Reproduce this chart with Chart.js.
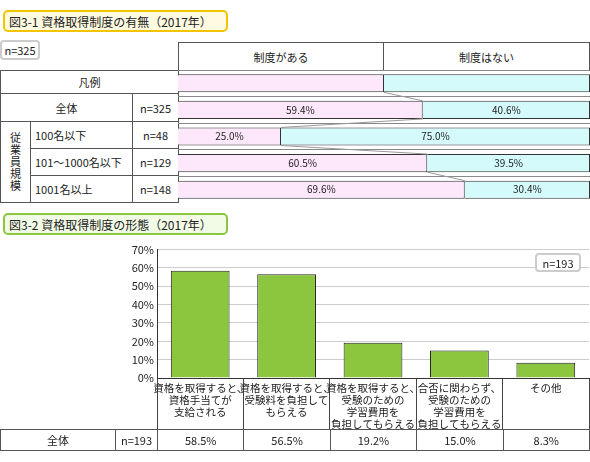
<!DOCTYPE html>
<html><head><meta charset="utf-8">
<script src="https://cdn.jsdelivr.net/npm/chart.js@4"></script>
<style>
body{margin:0;width:590px;height:462px;background:#fff;font-family:"Noto Sans CJK JP",sans-serif;font-size:11px;color:#222;position:relative;overflow:hidden}
.a{position:absolute;box-sizing:border-box;display:flex;align-items:center;justify-content:center}
.c{border:1px solid #555}
</style></head><body>
<script>
const rowLabels=["凡例","全体","100名以下","101～1000名以下","1001名以上"];
const rowN=["","n=325","n=48","n=129","n=148"];
const hasSystem=[50,59.4,25.0,60.5,69.6];
const noSystem=[50,40.6,75.0,39.5,30.4];
const seriesNames=["制度がある","制度はない"];
const formCats=[["資格を取得すると、","資格手当てが","支給される"],["資格を取得すると、","受験料を負担して","もらえる"],["資格を取得すると、","受験のための","学習費用を","負担してもらえる"],["合否に関わらず、","受験のための","学習費用を","負担してもらえる"],["その他"]];
const formVals=[58.5,56.5,19.2,15.0,8.3];
const yTicks=[0,10,20,30,40,50,60,70];
</script>
<div class="a" style="left:3px;top:10px;width:225px;height:22px;border:2px solid #f5c400;border-radius:5px;background:#fffbe0;justify-content:flex-start;padding-left:4px;font-size:12px">図3-1 資格取得制度の有無（2017年）</div>
<div class="a" style="left:0;top:40px;width:40px;height:20px;border:2px solid #ccc;border-radius:4px">n=325</div>
<div class="a c" style="left:178px;top:42px;width:206px;height:29px">制度がある</div>
<div class="a c" style="left:383px;top:42px;width:207px;height:29px">制度はない</div>
<div class="a c" style="left:0;top:70px;width:179px;height:24px">凡例</div>
<div class="a c" style="left:0;top:93px;width:133px;height:29px">全体</div>
<div class="a c" style="left:132px;top:93px;width:47px;height:29px">n=325</div>
<div class="a c" style="left:0;top:121px;width:31px;height:82px;writing-mode:vertical-rl;letter-spacing:1px">従業員規模</div>
<div class="a c" style="left:30px;top:121px;width:103px;height:28px;justify-content:flex-start;padding-left:4px">100名以下</div>
<div class="a c" style="left:30px;top:148px;width:103px;height:28px;justify-content:flex-start;padding-left:4px">101～1000名以下</div>
<div class="a c" style="left:30px;top:175px;width:103px;height:28px;justify-content:flex-start;padding-left:4px">1001名以上</div>
<div class="a c" style="left:132px;top:121px;width:47px;height:28px">n=48</div>
<div class="a c" style="left:132px;top:148px;width:47px;height:28px">n=129</div>
<div class="a c" style="left:132px;top:175px;width:47px;height:28px">n=148</div>
<div style="position:absolute;left:178px;top:70px;width:412px;height:133px"><canvas id="c1"></canvas></div>

<div class="a" style="left:3px;top:213px;width:225px;height:22px;border:2px solid #8cc63f;border-radius:5px;background:#f2fbe6;justify-content:flex-start;padding-left:4px;font-size:12px">図3-2 資格取得制度の形態（2017年）</div>
<div style="position:absolute;left:100px;top:240px;width:490px;height:190px"><canvas id="c2"></canvas></div>
<div class="a" style="left:535px;top:253px;width:46px;height:19px;border:2px solid #ccc;border-radius:4px;background:#fff">n=193</div>
<div class="a c" style="left:0;top:429px;width:116px;height:22px">全体</div>
<div class="a c" style="left:115px;top:429px;width:43px;height:22px">n=193</div>
<div id="row"></div>
<script>
const row=document.getElementById('row');
formVals.forEach((v,i)=>{const d=document.createElement('div');d.className='a c';d.style.cssText=`left:${157+i*86.4}px;top:429px;width:${87.4}px;height:22px`;d.textContent=v.toFixed(1)+'%';row.appendChild(d);});

const labelPlugin={id:'lbl',afterDatasetsDraw(ch){
 const ctx=ch.ctx;
 ctx.save();ctx.strokeStyle='#999';ctx.lineWidth=1;
 const m0=ch.getDatasetMeta(0);
 for(let i=0;i<m0.data.length-1;i++){const a=m0.data[i],b=m0.data[i+1];ctx.beginPath();ctx.moveTo(a.x,a.y+a.height/2);ctx.lineTo(b.x,b.y-b.height/2);ctx.stroke();}
 ctx.font='10px "Noto Sans CJK JP"';ctx.fillStyle='#222';ctx.textAlign='center';ctx.textBaseline='middle';
 [hasSystem,noSystem].forEach((arr,d)=>{const m=ch.getDatasetMeta(d);arr.forEach((v,i)=>{if(i===0)return;const e=m.data[i];ctx.fillText(v.toFixed(1)+'%',(e.base+e.x)/2,e.y);});});
 ctx.restore();}};
new Chart(document.getElementById('c1'),{type:'bar',data:{labels:rowLabels,datasets:[
 {label:seriesNames[0],data:hasSystem,backgroundColor:'#fde8fb',borderColor:'#333',borderWidth:1,barPercentage:0.68,categoryPercentage:1},
 {label:seriesNames[1],data:noSystem,backgroundColor:'#d4fafc',borderColor:'#333',borderWidth:1,barPercentage:0.68,categoryPercentage:1}]},
 options:{indexAxis:'y',animation:false,responsive:true,maintainAspectRatio:false,layout:{padding:0},
 plugins:{legend:{display:false},tooltip:{enabled:false}},
 scales:{x:{stacked:true,min:0,max:100,display:false},y:{stacked:true,display:true,ticks:{display:false},grid:{offset:true,color:'#888',drawTicks:false},border:{display:false}}}},plugins:[labelPlugin]});

const catPlugin={id:'cat',afterDraw(ch){
 const x=ch.scales.x,ctx=ch.ctx;ctx.save();
 ctx.font='10.5px "Noto Sans CJK JP"';ctx.fillStyle='#222';ctx.textAlign='center';ctx.textBaseline='top';
 formCats.forEach((lines,i)=>{const px=x.getPixelForValue(i);lines.forEach((t,j)=>ctx.fillText(t,px,x.top+5+j*12));});
 ctx.restore();}};
new Chart(document.getElementById('c2'),{type:'bar',data:{labels:formCats.map(c=>c.join('')),datasets:[{data:formVals,backgroundColor:'#8cc63f',borderColor:'#222',borderWidth:1,barPercentage:0.68,categoryPercentage:1}]},
 options:{animation:false,responsive:true,maintainAspectRatio:false,layout:{padding:{top:6,right:1}},
 plugins:{legend:{display:false},tooltip:{enabled:false}},
 scales:{y:{min:0,max:70,afterBuildTicks:s=>{s.ticks=yTicks.map(v=>({value:v}));},afterFit:s=>{s.width=57;},ticks:{callback:v=>v+'%',color:'#222',font:{size:11,family:'Noto Sans CJK JP'},padding:3},grid:{color:'#ccc',drawTicks:false},border:{color:'#333'}},
 x:{afterFit:s=>{s.height=52;},grid:{offset:true,color:'#444',tickLength:52,drawOnChartArea:false},border:{color:'#333'},ticks:{display:false}}}},plugins:[catPlugin]});
</script>
</body></html>
